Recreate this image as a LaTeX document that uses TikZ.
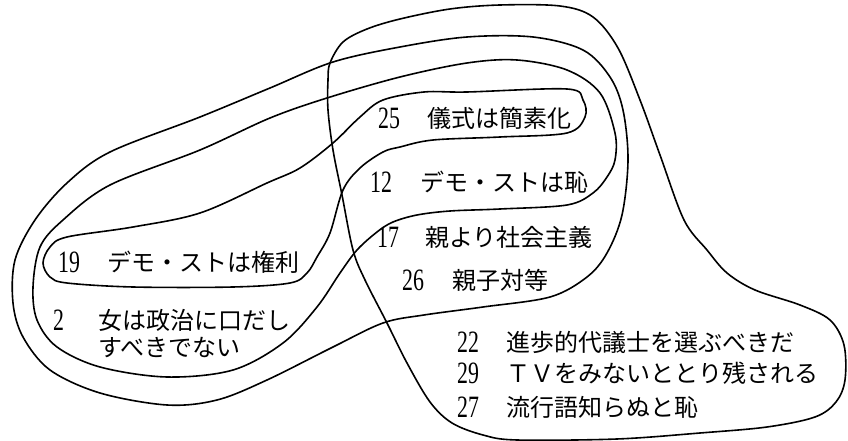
\documentclass[tikz,border=0pt]{standalone}
\usepackage{fontspec}
\setmainfont{Liberation Serif}
\newfontfamily\jp{Noto Sans CJK JP}
\tikzset{
  curve/.style={draw=black, line width=1.6bp, line join=round},
  numlbl/.style={anchor=west, inner sep=0pt, font=\fontsize{23bp}{27bp}\selectfont},
  jplbl/.style={anchor=west, inner sep=0pt, font=\jp\fontsize{24bp}{28bp}\selectfont},
}
\newcommand{\dg}[1]{\scalebox{0.95}[1.35]{#1}}
\begin{document}
\begin{tikzpicture}[x=1bp,y=-1bp]
\fill[white] (0,0) rectangle (848,441);
\useasboundingbox (0,0) rectangle (848,441);
% A: pear-shaped region on the right
\draw[curve] plot[smooth cycle, tension=0.55] coordinates {
 (330,63) (343,42) (367,29) (400,19) (450,9) (500,5) (560,6) (593,17) (618,48)
 (640,100) (660,155) (684,220) (707,250) (727,273) (755,290) (800,305) (830,320)
 (844,345) (845,380) (836,402) (815,417) (767,427) (700,433) (617,439) (517,440)
 (483,435) (452,423) (430,402) (407,363) (387,323) (365,280) (353,250) (342,195)
 (333,150) (328,110) (328,80)};
% B: outermost left region
\draw[curve] plot[smooth cycle, tension=0.55] coordinates {
 (333,62) (400,47) (467,37) (533,37) (583,50) (610,77) (623,110) (628,160)
 (622,215) (607,253) (587,277) (550,297) (483,307) (424,315) (383,323) (333,347)
 (267,380) (217,400) (167,405) (100,393) (50,370) (23,337) (13,303) (15,260)
 (35,220) (67,183) (110,152) (200,117) (270,88)};
% C
\draw[curve] plot[smooth cycle, tension=0.55] coordinates {
 (63,220) (110,185) (200,150) (270,118) (327,98) (400,77) (467,63) (517,60)
 (567,70) (600,93) (615,133) (615,160) (607,177) (593,193) (567,205) (500,209)
 (450,211) (417,215) (393,222) (377,232) (357,250) (340,273) (317,307) (283,343)
 (233,370) (167,377) (100,367) (57,347) (37,320) (33,287) (40,247)};
% D: 19 / 25 band
\draw[curve] plot[smooth cycle, tension=0.55] coordinates {
 (467,92) (567,89) (583,100) (585,117) (567,133) (500,137) (433,140) (400,147)
 (383,152) (360,168) (343,190) (330,233) (317,257) (307,273) (290,283) (233,287)
 (133,287) (67,283) (50,277) (43,263) (50,247) (67,237) (133,227) (200,213)
 (267,183) (300,168) (333,143) (360,117) (383,100) (424,92)};
% labels
\node[numlbl] (n25) at (378,118) {\dg{25}};
\node[jplbl]  (t25) at (427,118) {儀式は簡素化};
\node[numlbl] (n12) at (370,182) {\dg{12}};
\node[jplbl]  (t12) at (420,182) {デモ・ストは恥};
\node[numlbl] (n17) at (377,237) {\dg{17}};
\node[jplbl]  (t17) at (425,237) {親より社会主義};
\node[numlbl] (n26) at (402,280) {\dg{26}};
\node[jplbl]  (t26) at (452,280) {親子対等};
\node[numlbl] (n19) at (58,262) {\dg{19}};
\node[jplbl]  (t19) at (107,262) {デモ・ストは権利};
\node[numlbl] (n2) at (53,320) {\dg{2}};
\node[jplbl]  (t2a) at (98,320) {女は政治に口だし};
\node[jplbl]  (t2b) at (98,348) {すべきでない};
\node[numlbl] (n22) at (457,342) {\dg{22}};
\node[jplbl]  (t22) at (506,342) {進歩的代議士を選ぶべきだ};
\node[numlbl] (n29) at (457,373) {\dg{29}};
\node[jplbl]  (t29) at (506,373) {ＴＶをみないととり残される};
\node[numlbl] (n27) at (457,407) {\dg{27}};
\node[jplbl]  (t27) at (506,407) {流行語知らぬと恥};
\end{tikzpicture}
\end{document}
